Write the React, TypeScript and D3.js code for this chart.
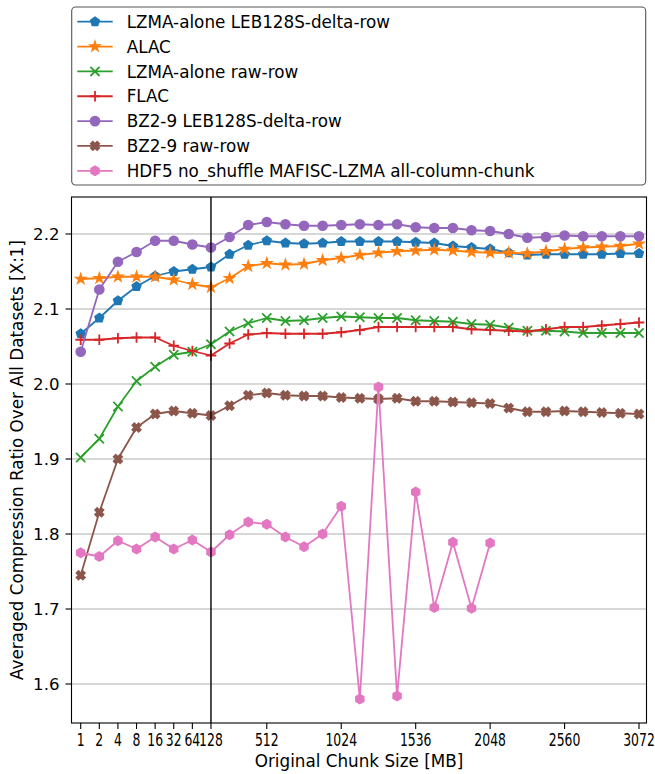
import React from 'react';
import * as d3 from 'd3';

const chunkSizes = [1, 2, 4, 8, 16, 32, 64, 128, 256, 384, 512, 640, 768, 896, 1024, 1152, 1280, 1408, 1536, 1664, 1792, 1920, 2048, 2176, 2304, 2432, 2560, 2688, 2816, 2944, 3072];
const xTickValues = [1, 2, 4, 8, 16, 32, 64, 128, 512, 1024, 1536, 2048, 2560, 3072];
const yTickValues = [1.6, 1.7, 1.8, 1.9, 2.0, 2.1, 2.2];

const lzmaDelta = [2.067, 2.088, 2.111, 2.130, 2.144, 2.150, 2.153, 2.156, 2.173, 2.185, 2.191, 2.188, 2.187, 2.188, 2.190, 2.190, 2.190, 2.190, 2.189, 2.188, 2.184, 2.182, 2.180, 2.175, 2.172, 2.173, 2.173, 2.173, 2.173, 2.174, 2.174];
const alac = [2.140, 2.141, 2.143, 2.143, 2.143, 2.139, 2.133, 2.129, 2.141, 2.157, 2.161, 2.159, 2.160, 2.165, 2.168, 2.172, 2.175, 2.177, 2.178, 2.179, 2.178, 2.176, 2.175, 2.175, 2.174, 2.177, 2.180, 2.182, 2.183, 2.184, 2.187];
const lzmaRaw = [1.902, 1.927, 1.970, 2.004, 2.023, 2.039, 2.043, 2.053, 2.070, 2.081, 2.088, 2.084, 2.085, 2.088, 2.090, 2.089, 2.088, 2.088, 2.085, 2.084, 2.083, 2.080, 2.079, 2.075, 2.071, 2.071, 2.070, 2.068, 2.068, 2.068, 2.068];
const flac = [2.059, 2.059, 2.061, 2.062, 2.062, 2.051, 2.044, 2.038, 2.054, 2.066, 2.068, 2.067, 2.067, 2.067, 2.069, 2.072, 2.076, 2.076, 2.076, 2.076, 2.076, 2.073, 2.072, 2.071, 2.070, 2.073, 2.076, 2.076, 2.078, 2.080, 2.082];
const bz2Delta = [2.043, 2.126, 2.163, 2.176, 2.191, 2.191, 2.186, 2.182, 2.196, 2.212, 2.216, 2.213, 2.211, 2.211, 2.212, 2.213, 2.212, 2.213, 2.209, 2.208, 2.208, 2.205, 2.204, 2.200, 2.195, 2.196, 2.198, 2.197, 2.197, 2.197, 2.197];
const bz2Raw = [1.745, 1.829, 1.900, 1.942, 1.960, 1.964, 1.961, 1.958, 1.971, 1.985, 1.988, 1.985, 1.984, 1.984, 1.982, 1.981, 1.980, 1.981, 1.977, 1.977, 1.976, 1.975, 1.974, 1.968, 1.963, 1.963, 1.964, 1.963, 1.962, 1.961, 1.960];
const hdf5Mafisc = [1.775, 1.770, 1.791, 1.780, 1.796, 1.780, 1.792, 1.776, 1.799, 1.816, 1.813, 1.796, 1.783, 1.800, 1.837, 1.580, 1.996, 1.584, 1.856, 1.702, 1.789, 1.701, 1.788];

const seriesNames = [
  'LZMA-alone LEB128S-delta-row',
  'ALAC',
  'LZMA-alone raw-row',
  'FLAC',
  'BZ2-9 LEB128S-delta-row',
  'BZ2-9 raw-row',
  'HDF5 no_shuffle MAFISC-LZMA all-column-chunk',
];
const seriesValues = [lzmaDelta, alac, lzmaRaw, flac, bz2Delta, bz2Raw, hdf5Mafisc];
const seriesColors = ['#1f77b4', '#ff7f0e', '#2ca02c', '#d62728', '#9467bd', '#8c564b', '#e377c2'];
const seriesMarkers = ['pentagon', 'star', 'x', 'plus', 'circle', 'xfilled', 'hexagon'];

const W = 655, H = 774;
const plotL = 71.5, plotR = 646.5, plotT = 197, plotB = 723;
const FONT = 'DejaVu Sans, sans-serif';

const chunkPos = (v: number) => (v <= 128 ? Math.log2(v) : 7 + (v - 128) / 128);
const xScale = d3.scaleLinear().domain([0, 30]).range([80.7, 639]);
const yScale = d3.scaleLinear().domain([1.6, 2.2]).range([684, 234]);
const xOf = (v: number) => xScale(chunkPos(v));

const MR = 4.6;

function polyPath(pts: [number, number][]) {
  return 'M' + pts.map((p) => p[0].toFixed(2) + ',' + p[1].toFixed(2)).join('L') + 'Z';
}

function markerPath(type: string, r: number): string {
  if (type === 'pentagon') {
    const pts: [number, number][] = d3.range(5).map((k) => {
      const a = (k * 72 * Math.PI) / 180;
      return [r * Math.sin(a), -r * Math.cos(a)];
    });
    return polyPath(pts);
  }
  if (type === 'hexagon') {
    const pts: [number, number][] = d3.range(6).map((k) => {
      const a = (k * 60 * Math.PI) / 180;
      return [r * Math.sin(a), -r * Math.cos(a)];
    });
    return polyPath(pts);
  }
  if (type === 'star') {
    const R = r * 1.1;
    const pts: [number, number][] = d3.range(10).map((k) => {
      const a = (k * 36 * Math.PI) / 180;
      const rr = k % 2 === 0 ? R : R * 0.381966;
      return [rr * Math.sin(a), -rr * Math.cos(a)];
    });
    return polyPath(pts);
  }
  if (type === 'circle') {
    return `M${r},0A${r},${r} 0 1,1 ${-r},0A${r},${r} 0 1,1 ${r},0Z`;
  }
  if (type === 'x') {
    return `M${-r},${-r}L${r},${r}M${-r},${r}L${r},${-r}`;
  }
  if (type === 'plus') {
    const s = r * 1.15;
    return `M${-s},0L${s},0M0,${-s}L0,${s}`;
  }
  if (type === 'xfilled') {
    const base: [number, number][] = [
      [-1, -3], [1, -3], [1, -1], [3, -1], [3, 1], [1, 1],
      [1, 3], [-1, 3], [-1, 1], [-3, 1], [-3, -1], [-1, -1],
    ];
    const sz = (2 * r) / 6;
    const c = Math.SQRT1_2;
    const pts: [number, number][] = base.map(([x, y]) => {
      const X = x * sz, Y = y * sz;
      return [X * c - Y * c, X * c + Y * c];
    });
    return polyPath(pts);
  }
  return '';
}

function Marker({ type, color, x, y }: { type: string; color: string; x: number; y: number }) {
  const d = markerPath(type, MR);
  const isLine = type === 'x' || type === 'plus';
  return (
    <path
      d={d}
      transform={`translate(${x},${y})`}
      fill={isLine ? 'none' : color}
      stroke={color}
      strokeWidth={isLine ? 1.8 : 1.5}
      strokeLinejoin="miter"
    />
  );
}

export default function App() {
  const line = d3
    .line<number>()
    .x((_, i) => xOf(chunkSizes[i]))
    .y((d) => yScale(d));

  const legendRowY = (i: number) => 21.7 + i * 24.85;

  return (
    <svg
      width={W}
      height={H}
      viewBox={`0 0 ${W} ${H}`}
      style={{ position: 'absolute', left: 0, top: 0, background: '#fff' }}
      fontFamily={FONT}
    >
      <rect x={0} y={0} width={W} height={H} fill="#fff" />
      {/* grid */}
      {yTickValues.map((v) => (
        <line key={'g' + v} x1={plotL} x2={plotR} y1={yScale(v)} y2={yScale(v)} stroke="#b0b0b0" strokeWidth={1.2} />
      ))}
      {/* series */}
      {seriesValues.map((vals, si) => (
        <g key={'s' + si}>
          <path d={line(vals) || ''} fill="none" stroke={seriesColors[si]} strokeWidth={1.8} strokeLinejoin="round" />
          {vals.map((v, i) => (
            <Marker key={i} type={seriesMarkers[si]} color={seriesColors[si]} x={xOf(chunkSizes[i])} y={yScale(v)} />
          ))}
        </g>
      ))}
      {/* vertical line at 128 */}
      <line x1={xOf(128)} x2={xOf(128)} y1={plotT} y2={plotB} stroke="#000" strokeWidth={1.4} />
      {/* spines */}
      <rect x={plotL} y={plotT} width={plotR - plotL} height={plotB - plotT} fill="none" stroke="#000" strokeWidth={1.1} />
      {/* x ticks */}
      {xTickValues.map((v) => {
        const x = xOf(v);
        return (
          <g key={'xt' + v}>
            <line x1={x} x2={x} y1={plotB} y2={plotB + 6} stroke="#000" strokeWidth={1.1} />
            <text
              transform={`translate(${x},${745.5}) scale(0.69,1)`}
              textAnchor="middle"
              fontSize={18}
              fill="#000"
            >
              {String(v)}
            </text>
          </g>
        );
      })}
      {/* y ticks */}
      {yTickValues.map((v) => {
        const y = yScale(v);
        return (
          <g key={'yt' + v}>
            <line x1={plotL - 6} x2={plotL} y1={y} y2={y} stroke="#000" strokeWidth={1.1} />
            <text x={59.5} y={y + 6} textAnchor="end" fontSize={16.6} fill="#000">
              {v.toFixed(1)}
            </text>
          </g>
        );
      })}
      {/* axis labels */}
      <text x={(plotL + plotR) / 2} y={767} textAnchor="middle" fontSize={16.8} fill="#000">
        Original Chunk Size [MB]
      </text>
      <text
        transform={`translate(23,${(plotT + plotB) / 2}) rotate(-90)`}
        textAnchor="middle"
        fontSize={16.8}
        fill="#000"
      >
        Averaged Compression Ratio Over All Datasets [X:1]
      </text>
      {/* legend */}
      <rect x={71.7} y={7} width={574} height={178} rx={4} ry={4} fill="#fff" fillOpacity={0.8} stroke="#555" strokeWidth={1.1} />
      {seriesNames.map((name, i) => {
        const y = legendRowY(i);
        return (
          <g key={'l' + i}>
            <line x1={77.3} x2={112.7} y1={y} y2={y} stroke={seriesColors[i]} strokeWidth={1.8} />
            <Marker type={seriesMarkers[i]} color={seriesColors[i]} x={95} y={y} />
            <text x={126.7} y={y + 6.1} fontSize={16.8} fill="#000">
              {name}
            </text>
          </g>
        );
      })}
    </svg>
  );
}
